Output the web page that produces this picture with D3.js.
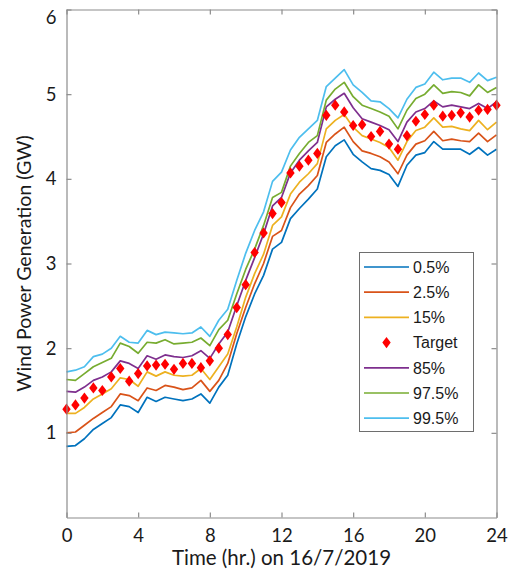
<!DOCTYPE html>
<html>
<head>
<meta charset="utf-8">
<script src="https://cdn.jsdelivr.net/npm/d3@7"></script>
<style>
  html, body { margin: 0; padding: 0; background: #fff; }
  svg { display: block; }
</style>
</head>
<body>
<svg id="chart" width="515" height="572"></svg>
<script>
// Half-hourly time steps, 0 to 24 h
const hours = d3.range(0, 24.01, 0.5);

// Quantile bands of the wind power forecast (GW)
const q005 = [0.84,0.85,0.93,1.04,1.11,1.18,1.33,1.31,1.24,1.42,1.37,1.42,1.40,1.38,1.40,1.46,1.35,
  1.54,1.68,2.05,2.37,2.64,2.86,3.17,3.25,3.53,3.65,3.76,3.88,4.26,4.39,4.46,4.29,
  4.20,4.12,4.10,4.05,3.91,4.16,4.28,4.31,4.44,4.35,4.35,4.35,4.29,4.37,4.28,4.35];
const q025 = [1.00,1.01,1.09,1.17,1.24,1.31,1.46,1.44,1.38,1.53,1.50,1.56,1.54,1.51,1.53,1.62,1.49,
  1.62,1.82,2.17,2.48,2.76,3.00,3.32,3.39,3.66,3.82,3.92,4.04,4.43,4.53,4.61,4.44,
  4.33,4.30,4.26,4.20,4.06,4.28,4.41,4.45,4.56,4.45,4.47,4.45,4.44,4.54,4.44,4.52];
const q15 = [1.23,1.23,1.30,1.40,1.46,1.52,1.65,1.63,1.55,1.72,1.67,1.72,1.68,1.67,1.68,1.76,1.63,
  1.78,1.93,2.25,2.60,2.88,3.11,3.45,3.55,3.82,3.96,4.06,4.18,4.59,4.69,4.76,4.61,
  4.51,4.47,4.43,4.37,4.22,4.44,4.57,4.61,4.72,4.61,4.62,4.59,4.57,4.69,4.58,4.67];
const q85 = [1.49,1.48,1.54,1.62,1.66,1.72,1.85,1.82,1.76,1.91,1.87,1.92,1.90,1.89,1.91,1.97,1.88,
  2.05,2.19,2.50,2.80,3.07,3.35,3.68,3.78,4.07,4.22,4.33,4.43,4.85,4.94,5.01,4.84,
  4.71,4.67,4.63,4.58,4.44,4.67,4.79,4.83,4.92,4.85,4.87,4.85,4.83,4.89,4.83,4.91];
const q975 = [1.63,1.62,1.70,1.78,1.83,1.88,2.06,2.02,1.94,2.07,2.06,2.10,2.05,2.06,2.07,2.12,2.03,
  2.22,2.33,2.64,2.93,3.17,3.45,3.78,3.84,4.15,4.30,4.43,4.51,4.93,5.06,5.14,4.97,
  4.87,4.83,4.79,4.74,4.59,4.81,4.95,5.00,5.11,5.01,5.03,5.02,4.98,5.11,5.02,5.08];
const q995 = [1.72,1.74,1.78,1.90,1.93,2.00,2.14,2.07,2.06,2.21,2.16,2.19,2.18,2.17,2.18,2.25,2.14,
  2.33,2.46,2.80,3.12,3.39,3.61,3.97,4.08,4.34,4.49,4.59,4.69,5.09,5.19,5.29,5.11,
  5.02,4.92,4.91,4.83,4.72,4.94,5.08,5.12,5.26,5.17,5.19,5.19,5.14,5.25,5.16,5.20];

// Measured target generation (GW)
const target = [1.28,1.33,1.41,1.53,1.50,1.66,1.76,1.61,1.70,1.79,1.80,1.81,1.75,1.82,1.82,1.77,1.85,
  2.00,2.16,2.48,2.75,3.13,3.36,3.59,3.72,4.07,4.15,4.22,4.30,4.75,4.87,4.79,4.63,
  4.64,4.50,4.56,4.41,4.35,4.51,4.68,4.76,4.87,4.74,4.75,4.78,4.73,4.81,4.82,4.87];

const xTicks = [0, 4, 8, 12, 16, 20, 24];
const yTicks = [1, 2, 3, 4, 5, 6];

const seriesNames = ["0.5%", "2.5%", "15%", "85%", "97.5%", "99.5%"];
const seriesValues = [q005, q025, q15, q85, q975, q995];
const seriesColors = ["#0072BD", "#D95319", "#EDB120", "#7E2F8E", "#77AC30", "#4DBEEE"];

const svg = d3.select("#chart");
const box = { left: 66.5, right: 496.5, top: 9.5, bottom: 517.5 };

const x = d3.scaleLinear().domain([0, 24]).range([box.left, box.right]);
const y = d3.scaleLinear().domain([0, 6]).range([box.bottom, box.top]);

const axisColor = "#8c8c8c";
const tickFont = "Lato, 'Open Sans', sans-serif";

// Data lines
const line = d3.line().x((d, i) => x(hours[i])).y(d => y(d));
const plot = svg.append("g");
seriesValues.forEach((vals, k) => {
  plot.append("path")
    .datum(vals)
    .attr("d", line)
    .attr("fill", "none")
    .attr("stroke", seriesColors[k])
    .attr("stroke-width", 1.7)
    .attr("stroke-linejoin", "round");
});

// Target markers (diamonds)
const dw = 4.2, dh = 5.6;
const diamond = `M0,${-dh}L${dw},0L0,${dh}L${-dw},0Z`;
plot.selectAll("path.target")
  .data(target)
  .join("path")
  .attr("class", "target")
  .attr("d", diamond)
  .attr("transform", (d, i) => `translate(${x(hours[i])},${y(d)})`)
  .attr("fill", "#FF0000");

// Axes box with inward ticks
function styleAxis(g) {
  g.selectAll("path.domain").attr("stroke", axisColor).attr("stroke-width", 1.2);
  g.selectAll(".tick line").attr("stroke", axisColor).attr("stroke-width", 1.2);
  g.selectAll(".tick text").attr("fill", "#1a1a1a").attr("font-family", tickFont).attr("font-size", 18.5);
}

svg.append("g")
  .attr("transform", `translate(0,${box.bottom})`)
  .call(d3.axisBottom(x).tickValues(xTicks).tickFormat(d3.format("d"))
    .tickSizeInner(-5).tickSizeOuter(0).tickPadding(11))
  .call(styleAxis);
svg.append("g")
  .attr("transform", `translate(0,${box.top})`)
  .call(d3.axisTop(x).tickValues(xTicks).tickSizeInner(-5).tickSizeOuter(0).tickFormat(""))
  .call(styleAxis);
svg.append("g")
  .attr("transform", `translate(${box.left},0)`)
  .call(d3.axisLeft(y).tickValues(yTicks).tickFormat(d3.format("d"))
    .tickSizeInner(-5).tickSizeOuter(0).tickPadding(10))
  .call(styleAxis)
  // keep the topmost label inside the canvas
  .selectAll(".tick text")
  .filter(d => d === 6)
  .attr("dy", "0.75em");
svg.append("g")
  .attr("transform", `translate(${box.right},0)`)
  .call(d3.axisRight(y).tickValues(yTicks).tickSizeInner(-5).tickSizeOuter(0).tickFormat(""))
  .call(styleAxis);

// Axis titles
svg.append("text")
  .attr("x", (box.left + box.right) / 2)
  .attr("y", 565)
  .attr("text-anchor", "middle")
  .attr("font-family", tickFont)
  .attr("font-size", 20.5)
  .attr("fill", "#1a1a1a")
  .text("Time (hr.) on 16/7/2019");

svg.append("text")
  .attr("transform", `translate(31,${(box.top + box.bottom) / 2}) rotate(-90)`)
  .attr("text-anchor", "middle")
  .attr("font-family", tickFont)
  .attr("font-size", 19.5)
  .attr("fill", "#1a1a1a")
  .text("Wind Power Generation (GW)");

// Legend
const legendItems = [
  { name: "0.5%", color: seriesColors[0], type: "line" },
  { name: "2.5%", color: seriesColors[1], type: "line" },
  { name: "15%", color: seriesColors[2], type: "line" },
  { name: "Target", color: "#FF0000", type: "marker" },
  { name: "85%", color: seriesColors[3], type: "line" },
  { name: "97.5%", color: seriesColors[4], type: "line" },
  { name: "99.5%", color: seriesColors[5], type: "line" }
];
const lg = svg.append("g").attr("transform", "translate(359.5,252.5)");
lg.append("rect")
  .attr("width", 114).attr("height", 179)
  .attr("fill", "#fff").attr("stroke", "#6e6e6e").attr("stroke-width", 1);
legendItems.forEach((it, i) => {
  const cy = 14.5 + i * 25.2;
  if (it.type === "line") {
    lg.append("line")
      .attr("x1", 4.5).attr("x2", 49.5).attr("y1", cy).attr("y2", cy)
      .attr("stroke", it.color).attr("stroke-width", 1.7);
  } else {
    lg.append("path")
      .attr("d", diamond)
      .attr("transform", `translate(27,${cy})`)
      .attr("fill", it.color);
  }
  lg.append("text")
    .attr("x", 53.5).attr("y", cy)
    .attr("dy", "0.36em")
    .attr("font-family", "'Liberation Sans', Arial, sans-serif")
    .attr("font-size", 16)
    .attr("fill", "#1a1a1a")
    .text(it.name);
});
</script>
</body>
</html>
